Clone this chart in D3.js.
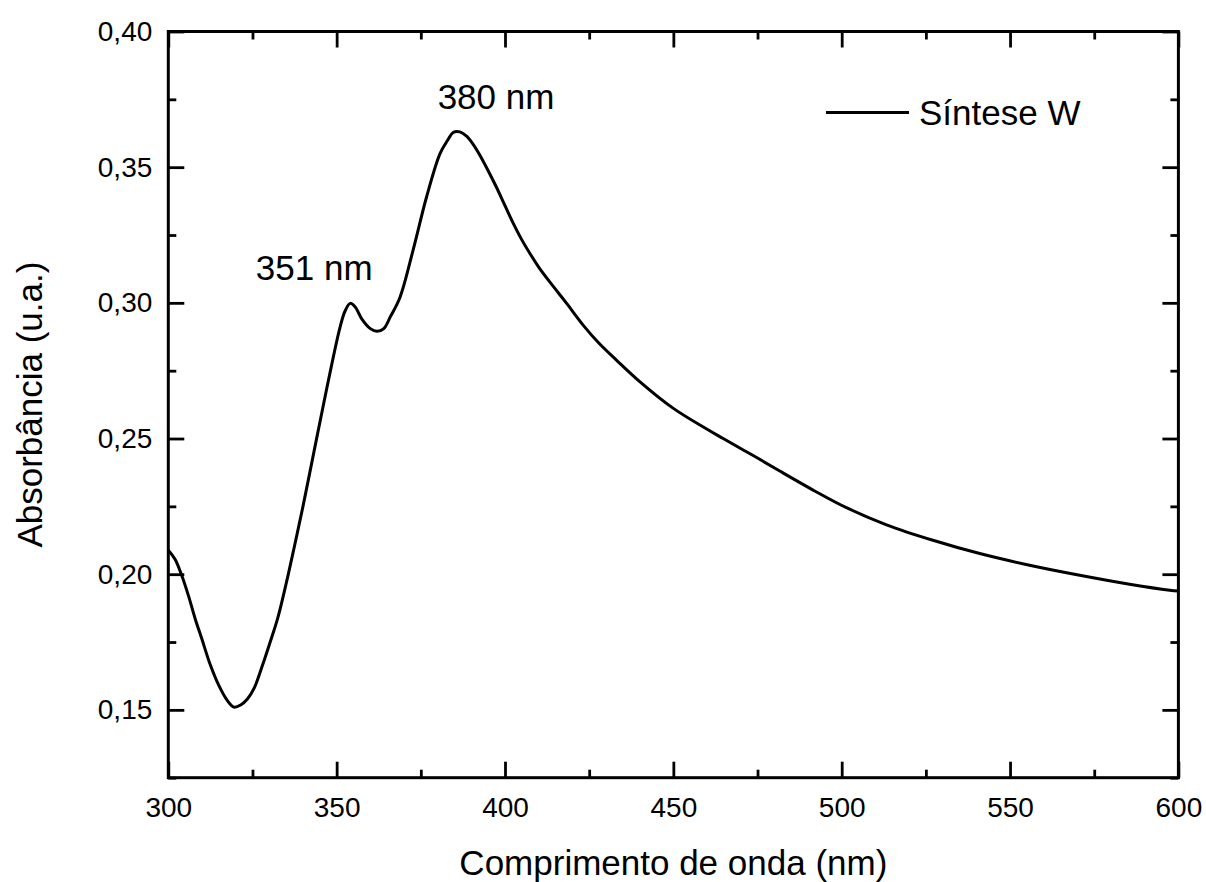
<!DOCTYPE html>
<html>
<head>
<meta charset="utf-8">
<script src="https://cdn.jsdelivr.net/npm/d3@7"></script>
<style>
  body { margin: 0; background: #fff; }
  svg { font-family: "Liberation Sans", Arial, sans-serif; }
</style>
</head>
<body>
<svg id="chart"></svg>
<script>
// wavelength (nm) and absorbance
const wavelength = [300, 302, 304, 306, 308, 310, 312.5, 315, 317.5, 319.5, 321.5, 323.5, 325.5, 328, 330, 332.5, 335, 337.5, 340, 343, 346, 349, 351, 352.5, 354, 355.5, 357.5, 360, 362, 364, 366, 368.8, 372.7, 376.7, 380.7, 383, 384.6, 386.6, 388.5, 390.5, 392.5, 395, 397.5, 400, 402.5, 405, 407.5, 410, 413.3, 418.3, 423.2, 428, 433.1, 440.1, 449.9, 459.9, 464.8, 470, 475, 481.6, 491.5, 501.4, 513.3, 527.1, 541, 555.8, 570.7, 585.5, 597.4, 600];
const absorbance = [0.2088, 0.2055, 0.1995, 0.192, 0.1835, 0.176, 0.1665, 0.159, 0.1535, 0.151, 0.1518, 0.154, 0.158, 0.1665, 0.174, 0.1838, 0.1965, 0.2105, 0.225, 0.2435, 0.262, 0.280, 0.291, 0.297, 0.2998, 0.2985, 0.294, 0.2905, 0.2895, 0.2905, 0.295, 0.302, 0.3194, 0.339, 0.355, 0.360, 0.3628, 0.363, 0.3615, 0.3585, 0.3545, 0.3487, 0.3425, 0.3358, 0.3292, 0.3232, 0.318, 0.3132, 0.3077, 0.2998, 0.2918, 0.285, 0.2789, 0.2709, 0.2612, 0.2535, 0.250, 0.2463, 0.2428, 0.238, 0.231, 0.2245, 0.2182, 0.2125, 0.2076, 0.2033, 0.1996, 0.1963, 0.1941, 0.1938];

const xMajor = [300, 350, 400, 450, 500, 550, 600];
const xMinor = [325, 375, 425, 475, 525, 575];
const yMajor = [0.15, 0.20, 0.25, 0.30, 0.35, 0.40];
const yMinor = [0.125, 0.175, 0.225, 0.275, 0.325, 0.375];

const peaks = [{label: "351 nm", x: 326, y: 0.3085}, {label: "380 nm", x: 380, y: 0.3715}];
const seriesName = "Síntese W";

const W = 1206, H = 882;
const margin = {top: 31.5, right: 27.6, bottom: 104.3, left: 168.3};
const width = W - margin.left - margin.right,
      height = H - margin.top - margin.bottom;

const svg = d3.select("#chart").attr("width", W).attr("height", H);
svg.append("rect").attr("width", W).attr("height", H).attr("fill", "#fff");

const g = svg.append("g")
    .attr("transform", "translate(" + margin.left + "," + margin.top + ")");

const x = d3.scaleLinear().domain([300, 600]).range([0, width]);
const y = d3.scaleLinear().domain([0.125, 0.40]).range([height, 0]);

const comma = v => d3.format(".2f")(v).replace(".", ",");

function styleAxis(sel) {
    sel.select(".domain").remove();
    sel.selectAll(".tick line").attr("stroke", "#000").attr("stroke-width", 2.8);
    sel.selectAll(".tick text").attr("fill", "#000").style("font-size", "28px");
}

// bottom
g.append("g").attr("transform", "translate(0," + height + ")")
    .call(d3.axisBottom(x).tickValues(xMajor).tickSize(-16).tickPadding(19).tickFormat(d3.format("d")))
    .call(styleAxis);
g.append("g").attr("transform", "translate(0," + height + ")")
    .call(d3.axisBottom(x).tickValues(xMinor).tickSize(-8).tickFormat(""))
    .call(styleAxis);
// top
g.append("g")
    .call(d3.axisTop(x).tickValues(xMajor).tickSize(-16).tickFormat(""))
    .call(styleAxis);
g.append("g")
    .call(d3.axisTop(x).tickValues(xMinor).tickSize(-8).tickFormat(""))
    .call(styleAxis);
// left
g.append("g")
    .call(d3.axisLeft(y).tickValues(yMajor).tickSize(-16).tickPadding(16).tickFormat(comma))
    .call(styleAxis);
g.append("g")
    .call(d3.axisLeft(y).tickValues(yMinor).tickSize(-8).tickFormat(""))
    .call(styleAxis);
// right
g.append("g").attr("transform", "translate(" + width + ",0)")
    .call(d3.axisRight(y).tickValues(yMajor).tickSize(-16).tickFormat(""))
    .call(styleAxis);
g.append("g").attr("transform", "translate(" + width + ",0)")
    .call(d3.axisRight(y).tickValues(yMinor).tickSize(-8).tickFormat(""))
    .call(styleAxis);

// frame
g.append("rect")
    .attr("width", width).attr("height", height)
    .attr("fill", "none").attr("stroke", "#000").attr("stroke-width", 3);

// spectrum
const pts = wavelength.map((w, i) => [w, absorbance[i]]);
const line = d3.line()
    .x(d => x(d[0]))
    .y(d => y(d[1]))
    .curve(d3.curveCatmullRom.alpha(0.5));

g.append("path")
    .datum(pts)
    .attr("fill", "none")
    .attr("stroke", "#000")
    .attr("stroke-width", 3)
    .attr("stroke-linejoin", "round")
    .attr("d", line);

// peak labels
g.selectAll(".peak")
    .data(peaks)
    .enter()
    .append("text")
    .attr("x", d => x(d.x))
    .attr("y", d => y(d.y))
    .style("font-size", "35px")
    .text(d => d.label);

// legend
const lg = g.append("g").attr("transform", "translate(" + (826 - margin.left) + "," + (112.5 - margin.top) + ")");
lg.append("line").attr("x1", 0).attr("x2", 83).attr("y1", 0).attr("y2", 0)
    .attr("stroke", "#000").attr("stroke-width", 3);
lg.append("text").attr("x", 93).attr("y", 12.5).style("font-size", "35px").text(seriesName);

// axis titles
svg.append("text")
    .attr("x", margin.left + width / 2)
    .attr("y", 875)
    .attr("text-anchor", "middle")
    .style("font-size", "35px")
    .text("Comprimento de onda (nm)");

svg.append("text")
    .attr("transform", "translate(42," + (margin.top + height / 2) + ") rotate(-90)")
    .attr("text-anchor", "middle")
    .style("font-size", "35px")
    .text("Absorbância (u.a.)");
</script>
</body>
</html>
